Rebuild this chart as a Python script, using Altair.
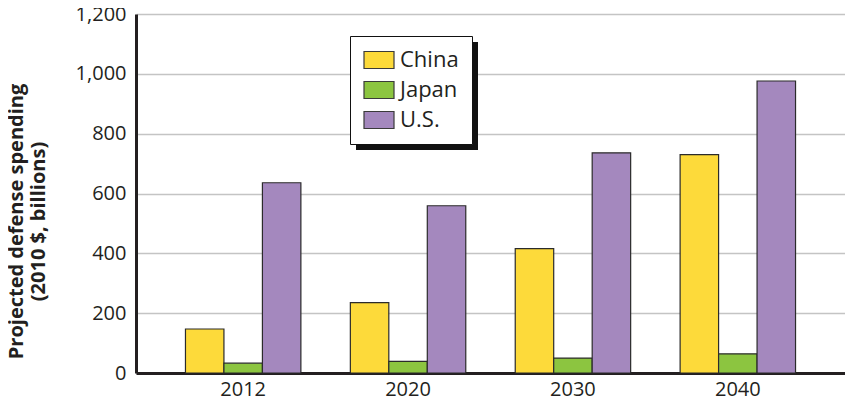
import altair as alt
import pandas as pd

years = ["2012", "2020", "2030", "2040"]
countries = ["China", "Japan", "U.S."]
china = [147, 235, 416, 730]
japan = [33, 39, 50, 64]
us = [636, 559, 736, 976]
colors = ["#FDDA3A", "#8CC540", "#A488BE"]
y_ticks = [0, 200, 400, 600, 800, 1000, 1200]

rows = []
for i, yr in enumerate(years):
    for c, vals in zip(countries, [china, japan, us]):
        rows.append({"year": yr, "country": c, "value": vals[i]})
df = pd.DataFrame(rows)

FONT = "Open Sans"
W, H = 709, 359

bars = alt.Chart(df).mark_bar(stroke="#2b2b2b", strokeWidth=1.2).encode(
    x=alt.X("year:N", sort=years,
            scale=alt.Scale(paddingInner=0.3, paddingOuter=0.3),
            axis=alt.Axis(title=None, labelAngle=0, ticks=False, grid=False,
                          domainColor="#231f20", domainWidth=3,
                          labelFont=FONT, labelFontSize=20, labelColor="#231f20",
                          labelPadding=6)),
    xOffset=alt.XOffset("country:N", sort=countries,
                        scale=alt.Scale(paddingInner=0, paddingOuter=0)),
    y=alt.Y("value:Q",
            scale=alt.Scale(domain=[0, 1200], nice=False),
            axis=alt.Axis(values=y_ticks, format=",d", ticks=False,
                          grid=True, gridColor="#c4c4c4", gridWidth=1.5,
                          domainColor="#231f20", domainWidth=3,
                          labelFont=FONT, labelFontSize=20, labelColor="#231f20",
                          labelPadding=10,
                          title=["Projected defense spending", "(2010 $, billions)"],
                          titleFont=FONT, titleFontSize=20, titleFontWeight="bold",
                          titleColor="#231f20", titleLineHeight=22,
                          titleX=-110, titleY=207, titleAngle=-90,
                          titleAlign="center", titleBaseline="bottom")),
    color=alt.Color("country:N", sort=countries,
                    scale=alt.Scale(domain=countries, range=colors),
                    legend=alt.Legend(title=None, orient="none",
                                      legendX=214, legendY=22,
                                      direction="vertical",
                                      fillColor="white", strokeColor="#111111",
                                      padding=13, rowPadding=8,
                                      symbolType="M-1.5,-0.85H1.5V0.85H-1.5Z",
                                      symbolSize=400, symbolStrokeColor="#3a3a3a",
                                      symbolStrokeWidth=1.2, symbolOpacity=1,
                                      symbolOffset=5,
                                      labelFont=FONT, labelFontSize=22,
                                      labelColor="#231f20", labelOffset=10)),
)

shadow = alt.Chart(pd.DataFrame({"d": [0]})).mark_rect(color="#111111").encode(
    x=alt.value(220), x2=alt.value(342), y=alt.value(28), y2=alt.value(136)
)

chart = alt.layer(shadow, bars).properties(
    width=W, height=H,
    autosize=alt.AutoSizeParams(type="none"),
    padding={"left": 128, "top": 6, "right": 0, "bottom": 26},
).configure_view(stroke=None)

chart.save("out.html", embed_options={"renderer": "svg", "actions": False})
